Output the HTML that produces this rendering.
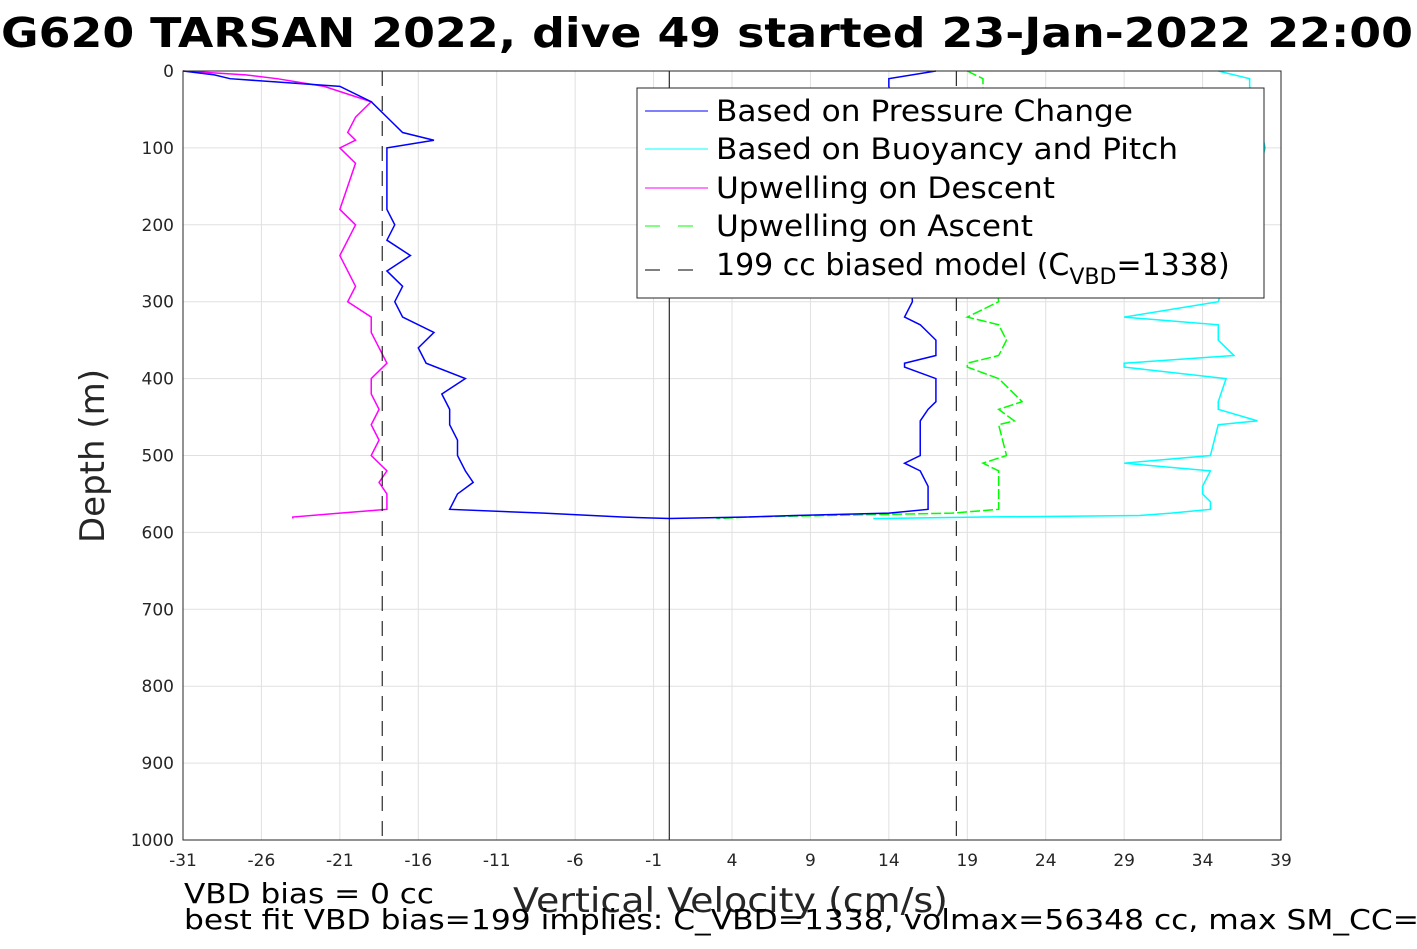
<!DOCTYPE html>
<html><head><meta charset="utf-8"><style>
body{margin:0;background:#fff;width:1417px;height:945px;overflow:hidden;font-family:"DejaVu Sans","Liberation Sans",sans-serif}
</style></head><body>
<svg id="chart" width="1417" height="945" xmlns="http://www.w3.org/2000/svg" font-family="DejaVu Sans, Liberation Sans, sans-serif">
<text x="1" y="47" font-size="41" font-weight="bold" textLength="1412" lengthAdjust="spacingAndGlyphs">G620 TARSAN 2022, dive 49 started 23-Jan-2022 22:00</text>
<g id="grid"></g>
<g id="marks"></g>
<rect x="183" y="71" width="1098" height="769" fill="none" stroke="#262626" stroke-width="1"/>
<g id="ticks"></g>
<text transform="translate(104,456) rotate(-90)" text-anchor="middle" font-size="34" fill="#262626">Depth (m)</text>
<text x="513" y="912" font-size="34" fill="#262626" textLength="435" lengthAdjust="spacingAndGlyphs">Vertical Velocity (cm/s)</text>
<text x="184" y="903" font-size="28" textLength="250" lengthAdjust="spacingAndGlyphs">VBD bias = 0 cc</text>
<text x="184" y="929" font-size="28" textLength="1235" lengthAdjust="spacingAndGlyphs">best fit VBD bias=199 implies: C_VBD=1338, volmax=56348 cc, max SM_CC=</text>
<g>
<rect x="637" y="88" width="627" height="210" fill="#fff" stroke="#262626"/>
<line x1="645" y1="111" x2="708" y2="111" stroke="#0000ff"/>
<text x="716" y="121" font-size="29" textLength="417" lengthAdjust="spacingAndGlyphs">Based on Pressure Change</text>
<line x1="645" y1="149" x2="708" y2="149" stroke="#00ffff"/>
<text x="716" y="159" font-size="29" textLength="462" lengthAdjust="spacingAndGlyphs">Based on Buoyancy and Pitch</text>
<line x1="645" y1="188" x2="708" y2="188" stroke="#ff00ff"/>
<text x="716" y="198" font-size="29" textLength="339" lengthAdjust="spacingAndGlyphs">Upwelling on Descent</text>
<line x1="645" y1="226" x2="700" y2="226" stroke="#00ff00" stroke-dasharray="15,18"/>
<text x="716" y="236" font-size="29" textLength="317" lengthAdjust="spacingAndGlyphs">Upwelling on Ascent</text>
<line x1="645" y1="270" x2="700" y2="270" stroke="#000" stroke-dasharray="15,18"/>
<text x="716" y="275" font-size="30">199 cc biased model (C<tspan font-size="22" dy="9">VBD</tspan><tspan dy="-9">=1338)</tspan></text>
</g>
</svg>
<script>
const xTicks=[-31,-26,-21,-16,-11,-6,-1,4,9,14,19,24,29,34,39];
const yTicks=[0,100,200,300,400,500,600,700,800,900,1000];
const descDepth=[0,5,10,20,40,60,80,90,100,120,150,180,200,220,240,260,280,300,320,340,360,380,400,420,440,460,480,500,520,535,550,570,575,580,582];
const descPressure=[-31,-29,-28,-21,-19,-18,-17,-15,-18,-18,-18,-18,-17.5,-18,-16.5,-18,-17,-17.5,-17,-15,-16,-15.5,-13,-14.5,-14,-14,-13.5,-13.5,-13,-12.5,-13.5,-14,-8,-3,0];
const descUpwelling=[-31,-27,-25,-22,-19,-20,-20.5,-20,-21,-20,-20.5,-21,-20,-20.5,-21,-20.5,-20,-20.5,-19,-19,-18.5,-18,-19,-19,-18.5,-19,-18.5,-19,-18,-18.5,-18,-18,-21,-24,-24];
const ascDepth=[0,10,20,100,300,320,330,350,370,380,385,400,430,440,455,460,500,510,520,540,550,560,570,575,578,580,582];
const ascPressure=[17,14,14,15,15.5,15,16,17,17,15,15,17,17,16.5,16,16,16,15,16,16.5,16.5,16.5,16.5,14,8,5,0];
const ascBuoyancy=[35,37,37,38,35,29,35,35,36,29,29,35.5,35,35,37.5,35,34.5,29,34.5,34,34,34.5,34.5,32,30,20,13];
const ascUpwelling=[19,20,20,20,21,19,21,21.5,21,19,19,21,22.5,21,22,21,21.5,20,21,21,21,21,21,18,10,5,3];
const modelX=[-18.3,18.3];
const X=v=>183+(v+31)*1098/70, Y=d=>71+d*769/1000;
const NS='http://www.w3.org/2000/svg';
function mk(p,t,a){const e=document.createElementNS(NS,t);for(const k in a)e.setAttribute(k,a[k]);document.getElementById(p).appendChild(e);return e;}
xTicks.forEach(v=>{
 const g=mk('grid','line',{x1:X(v),x2:X(v),y1:71,y2:840,stroke:'#e0e0e0'});
 
 
 const t=mk('ticks','text',{x:X(v),y:866,'text-anchor':'middle','font-size':17,fill:'#262626'});
 t.textContent=v;
 
 
});
yTicks.forEach(v=>{
 const g=mk('grid','line',{x1:183,x2:1281,y1:Y(v),y2:Y(v),stroke:'#e0e0e0'});
 
 
 const t=mk('ticks','text',{x:174,y:Y(v)+6,'text-anchor':'end','font-size':17,fill:'#262626'});
 t.textContent=v;
 
 
});
function line(depths,vals,color,name,dash){
 const pts=depths.map((d,i)=>X(vals[i])+','+Y(d)).join(' ');
 const e=mk('marks','polyline',{points:pts,fill:'none',stroke:color,'stroke-width':1.5});
 if(dash)e.setAttribute('stroke-dasharray',dash);
 
 
}
line(descDepth,descUpwelling,'#ff00ff','upwelling-descent-line');
line(descDepth,descPressure,'#0000ff','pressure-descent-line');
line(ascDepth,ascUpwelling,'#00ff00','upwelling-ascent-line','10,3');
line(ascDepth,ascBuoyancy,'#00ffff','buoyancy-ascent-line');
line(ascDepth,ascPressure,'#0000ff','pressure-ascent-line');
modelX.forEach(v=>{
 const e=mk('marks','line',{x1:X(v),x2:X(v),y1:71,y2:840,stroke:'#000','stroke-dasharray':'15,10'});
 
 
});
const z=mk('marks','line',{x1:X(0),x2:X(0),y1:71,y2:840,stroke:'#000'});


</script>
</body></html>
